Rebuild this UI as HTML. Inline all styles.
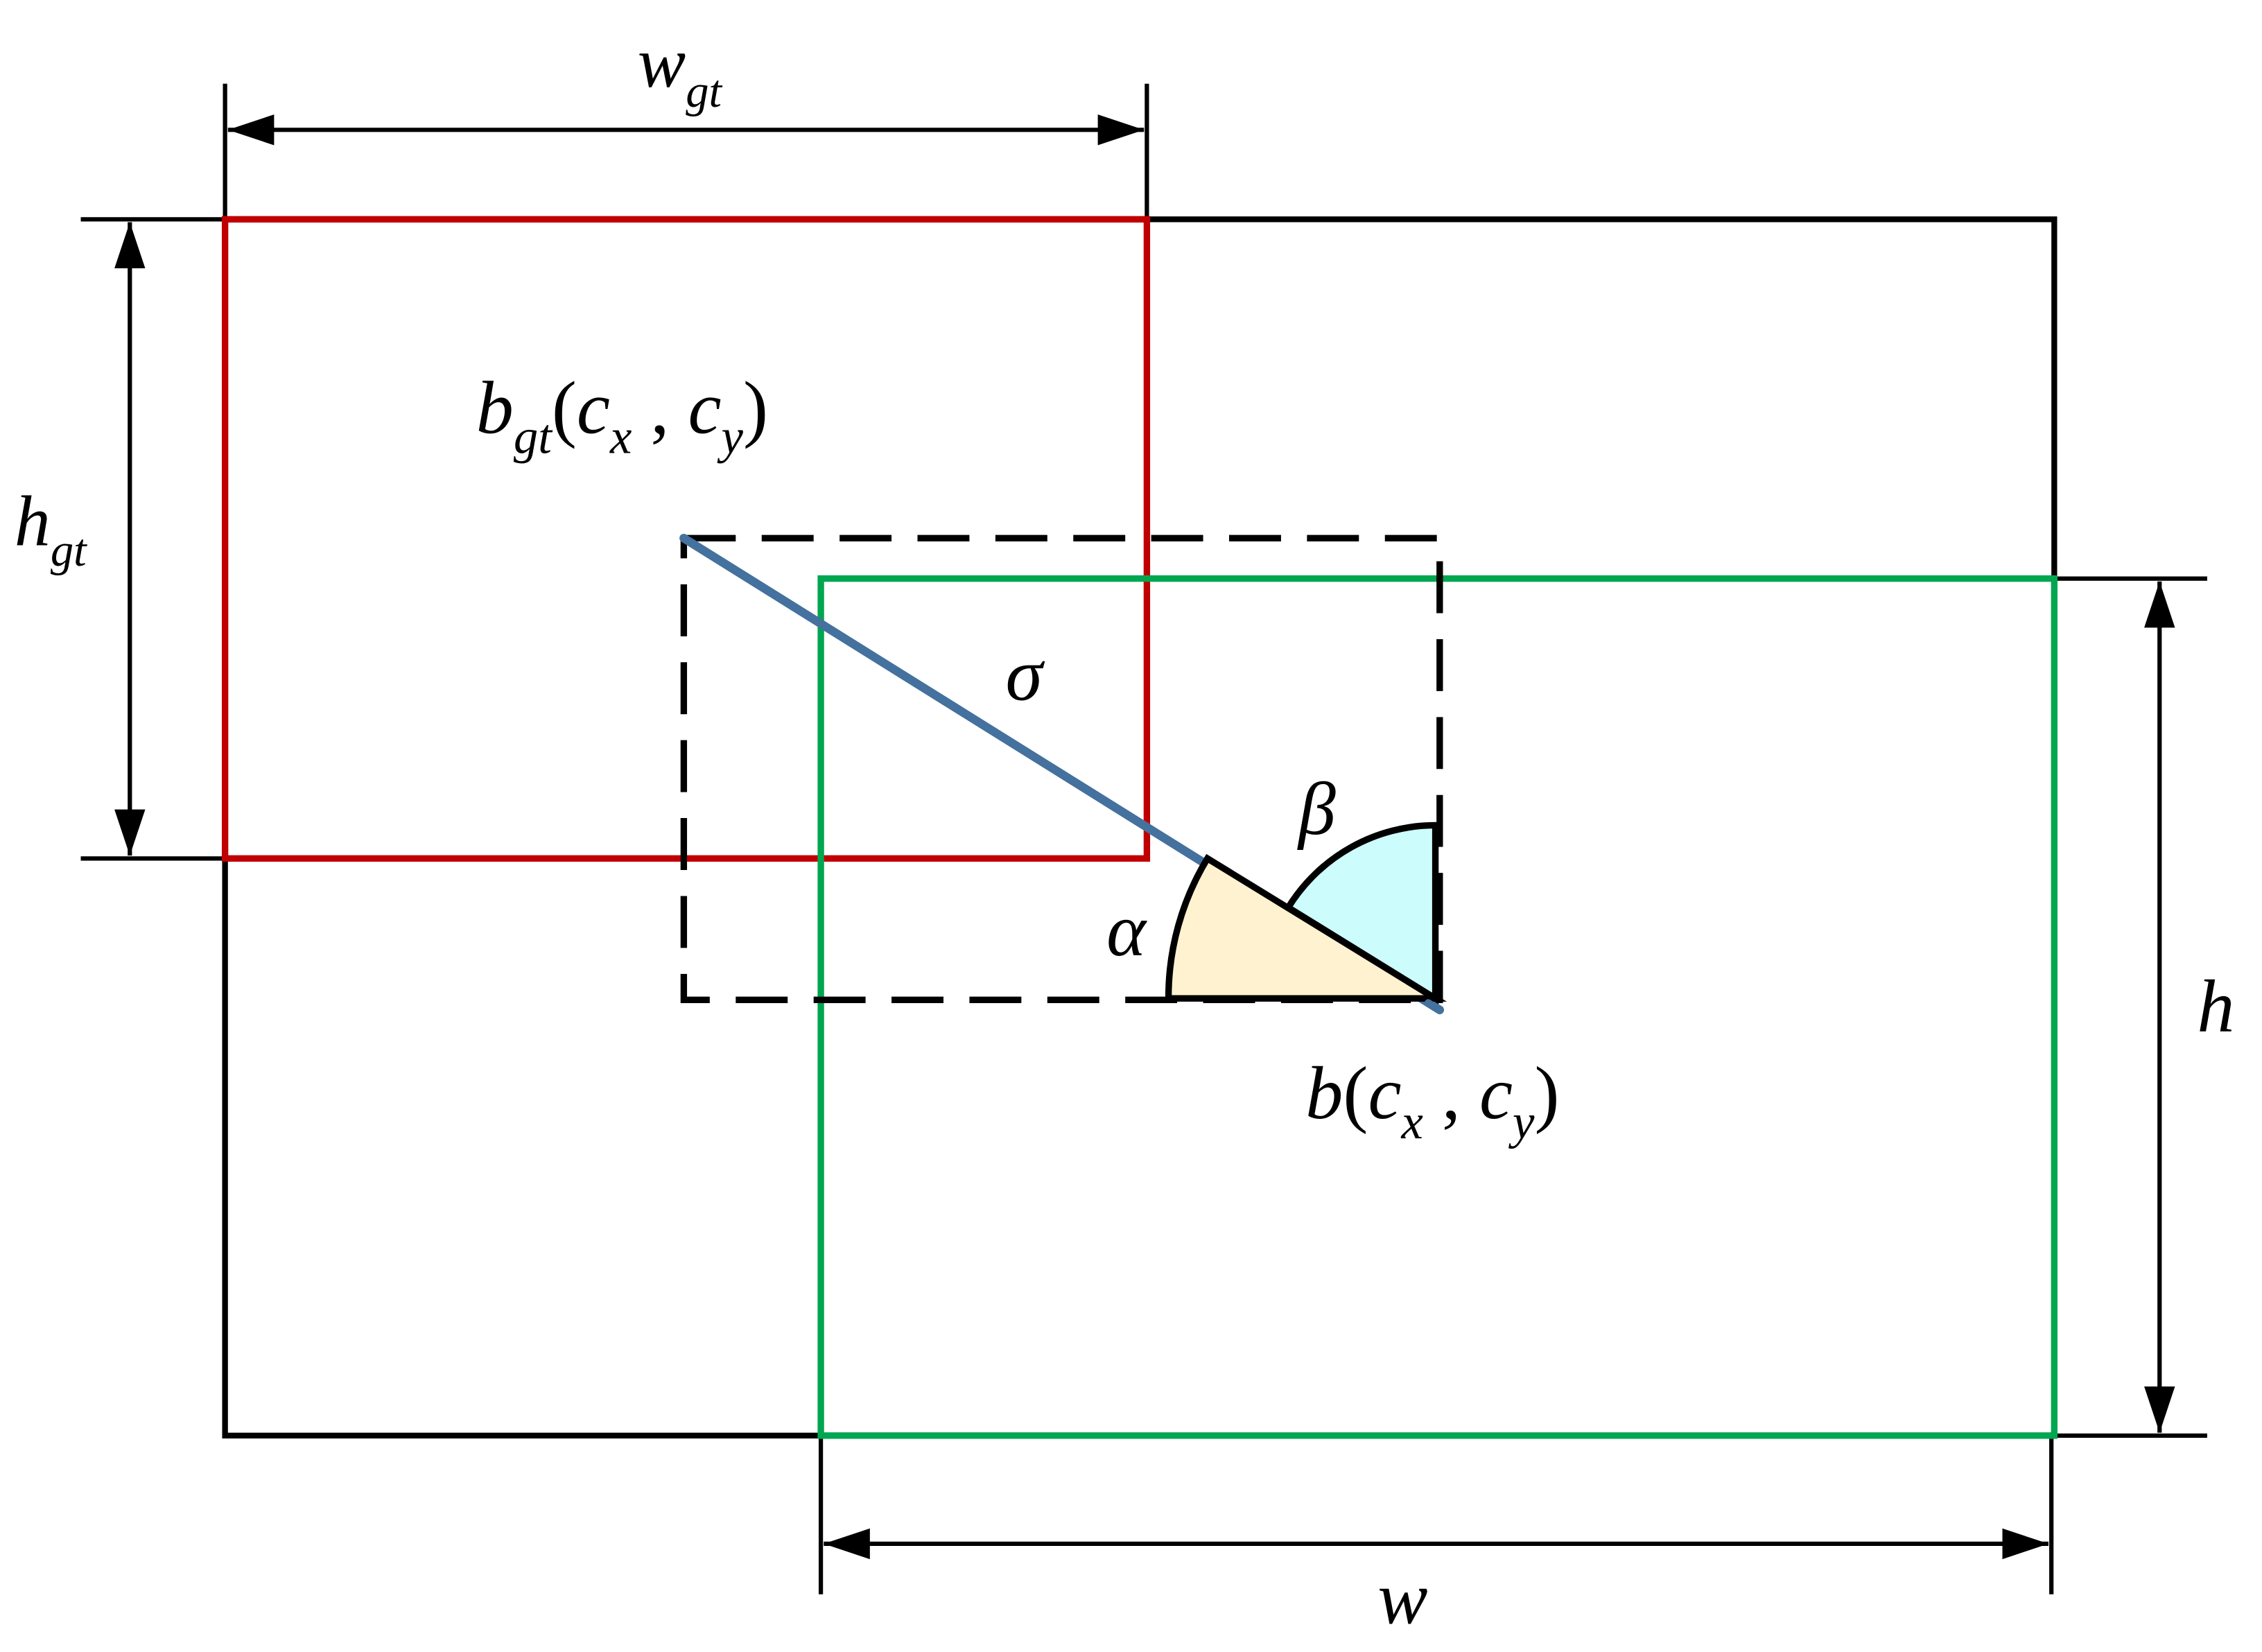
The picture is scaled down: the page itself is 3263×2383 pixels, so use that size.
<!DOCTYPE html>
<html><head><meta charset="utf-8"><style>
html,body{margin:0;padding:0;background:#fff;}
svg{display:block;}
text{font-family:"Liberation Serif",serif;font-style:italic;fill:#000;}
</style></head><body>
<svg width="3263" height="2383" viewBox="0 0 1568 1145" preserveAspectRatio="none" xmlns="http://www.w3.org/2000/svg">
<defs>
<marker id="b" viewBox="0 0 30 20" refX="30" refY="10" markerWidth="32" markerHeight="22" markerUnits="userSpaceOnUse" orient="auto-start-reverse">
<path d="M0,0 L30,10 L0,20 z" fill="#000"/></marker>
</defs>
<g stroke="#000" stroke-width="4" fill="none">
<rect x="156" y="152" width="1268" height="843"/>
<g stroke-width="3">
<line x1="156" y1="58" x2="156" y2="152"/>
<line x1="795" y1="58" x2="795" y2="152"/>
<line x1="56" y1="152" x2="156" y2="152"/>
<line x1="56" y1="595" x2="156" y2="595"/>
<line x1="1424" y1="401" x2="1530" y2="401"/>
<line x1="1424" y1="995" x2="1530" y2="995"/>
<line x1="569" y1="995" x2="569" y2="1105"/>
<line x1="1422" y1="995" x2="1422" y2="1105"/>
<line x1="158" y1="90" x2="793" y2="90" marker-start="url(#b)" marker-end="url(#b)"/>
<line x1="90" y1="154" x2="90" y2="593" marker-start="url(#b)" marker-end="url(#b)"/>
<line x1="1497" y1="403" x2="1497" y2="993" marker-start="url(#b)" marker-end="url(#b)"/>
<line x1="571" y1="1070" x2="1420" y2="1070" marker-start="url(#b)" marker-end="url(#b)"/>
</g>
</g>
<rect x="156" y="152" width="639" height="443" fill="none" stroke="#c00000" stroke-width="4.5"/>
<rect x="569" y="401" width="855" height="594" fill="none" stroke="#00a650" stroke-width="4.5"/>
<rect x="474" y="373" width="524" height="320" fill="none" stroke="#000" stroke-width="4.5" stroke-dasharray="36,18"/>
<line x1="474" y1="373" x2="998" y2="700" stroke="#44719e" stroke-width="6" stroke-linecap="round"/>
<path d="M995,692 L810,692 A185,185 0 0 1 837,595 Z" fill="#fff2d0" stroke="#000" stroke-width="4.5"/>
<path d="M995,692 L893,629 A120,120 0 0 1 995,572 Z" fill="#ccfcfc" stroke="#000" stroke-width="4.5"/>
<line x1="990" y1="695" x2="998" y2="700" stroke="#44719e" stroke-width="5" stroke-linecap="round"/>
<text x="442" y="60" font-size="50">w<tspan font-size="32" dy="14">gt</tspan></text>
<text x="10" y="378" font-size="50">h<tspan font-size="32" dy="14">gt</tspan></text>
<text x="1523" y="715" font-size="52">h</text>
<text x="955" y="1125" font-size="52">w</text>
<text x="697" y="485" font-size="52">σ</text>
<text x="900" y="578" font-size="52">β</text>
<text x="767" y="662" font-size="52">α</text>
<text x="330" y="300" font-size="52">b<tspan font-size="34" dy="14">gt</tspan><tspan dy="-14" font-style="normal">(</tspan>c<tspan font-size="34" dy="14">x</tspan><tspan dy="-14" font-style="normal"> , </tspan>c<tspan font-size="34" dy="14">y</tspan><tspan dy="-14" font-style="normal">)</tspan></text>
<text x="905" y="775" font-size="52">b<tspan font-style="normal">(</tspan>c<tspan font-size="34" dy="14">x</tspan><tspan dy="-14" font-style="normal"> , </tspan>c<tspan font-size="34" dy="14">y</tspan><tspan dy="-14" font-style="normal">)</tspan></text>
</svg>
</body></html>
